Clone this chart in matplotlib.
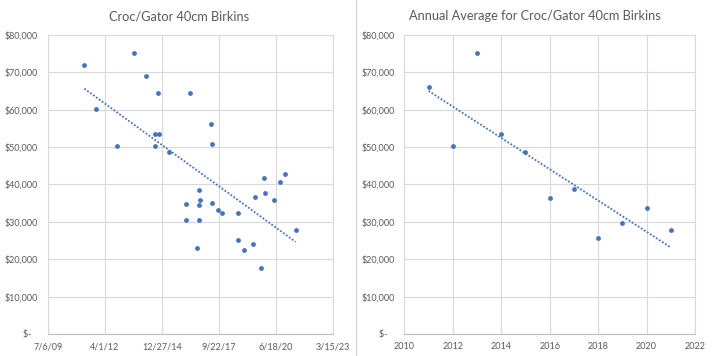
import matplotlib.pyplot as plt
import matplotlib.dates as mdates
import numpy as np
import pandas as pd
from matplotlib.lines import Line2D

# Данные: отдельные продажи (дата, цена)
sale_dates = ['2011-04-09', '2011-11-06', '2012-11-08', '2013-09-03', '2014-04-01',
              '2014-10-28', '2014-09-01', '2014-11-15', '2014-09-01', '2015-05-10',
              '2016-05-12', '2017-05-10', '2017-06-02', '2019-11-14', '2020-11-16',
              '2020-08-20', '2016-10-17', '2016-11-03', '2016-02-21', '2016-10-17',
              '2017-06-02', '2017-09-15', '2017-11-24', '2018-09-01', '2019-06-26',
              '2019-12-01', '2020-05-24', '2016-02-21', '2016-10-17', '2021-05-28',
              '2016-09-12', '2018-09-01', '2018-11-28', '2019-05-22', '2019-09-22']
sale_prices = [72000, 60100, 50200, 75300, 68900,
               64600, 53400, 53400, 50200, 48600,
               64600, 56300, 50700, 41600, 42700,
               40600, 38400, 35800, 34700, 34400,
               35000, 33300, 32300, 32500, 36600,
               37600, 35800, 30400, 30400, 27700,
               22900, 25100, 22400, 24000, 17600]

# Среднее за год
years = [2011, 2012, 2013, 2014, 2015, 2016, 2017, 2018, 2019, 2020, 2021]
year_avg = [66000, 50200, 75300, 53400, 48600, 36300, 38700, 25600, 29600, 33600, 27700]

date_ticks = ['2009-07-06', '2012-04-01', '2014-12-27', '2017-09-22', '2020-06-18', '2023-03-15']
date_tick_labels = ['7/6/09', '4/1/12', '12/27/14', '9/22/17', '6/18/20', '3/15/23']
year_ticks = [2010, 2012, 2014, 2016, 2018, 2020, 2022]
price_ticks = [0, 10000, 20000, 30000, 40000, 50000, 60000, 70000, 80000]

blue = '#4472C4'
grid_c = '#d9d9d9'
text_c = '#595959'
plt.rcParams['font.family'] = ['Lato', 'DejaVu Sans']


def money(v):
    if v == 0:
        return '$-   '
    return '${:,.0f}'.format(v)


def style_ax(ax):
    ax.set_ylim(0, 80000)
    ax.set_yticks(price_ticks)
    ax.set_yticklabels([money(v) for v in price_ticks])
    ax.grid(True, color=grid_c, linewidth=0.8)
    ax.set_axisbelow(True)
    for s in ax.spines.values():
        s.set_color(grid_c)
        s.set_linewidth(0.8)
    ax.spines['bottom'].set_color('#bfbfbf')
    ax.tick_params(length=0, labelsize=6.5, labelcolor=text_c)
    ax.tick_params(axis='y', pad=7)
    ax.tick_params(axis='x', pad=6)


fig = plt.figure(figsize=(7.15, 3.56), dpi=100)

# левый график
ax1 = fig.add_axes([0.0667, 0.0618, 0.399, 0.84])
d = pd.to_datetime(sale_dates)
dn = mdates.date2num(d)
ax1.scatter(d, sale_prices, s=12, color=blue, zorder=3, linewidths=0)
k, b = np.polyfit(dn, sale_prices, 1)
xs = np.array([dn.min(), dn.max()])
ax1.plot(mdates.num2date(xs), k * xs + b, color=blue, linestyle=(0, (1, 1)), linewidth=1.3)
ax1.set_xlim(pd.Timestamp(date_ticks[0]), pd.Timestamp(date_ticks[-1]))
ax1.set_xticks(pd.to_datetime(date_ticks))
ax1.set_xticklabels(date_tick_labels)
style_ax(ax1)
fig.text(0.250, 0.955, 'Croc/Gator 40cm Birkins', ha='center', va='center',
         fontsize=9.2, color=text_c)

# правый график
ax2 = fig.add_axes([0.5655, 0.0618, 0.4065, 0.84])
ax2.scatter(years, year_avg, s=12, color=blue, zorder=3, linewidths=0)
k2, b2 = np.polyfit(years, year_avg, 1)
yx = np.array([min(years), max(years)])
ax2.plot(yx, k2 * yx + b2, color=blue, linestyle=(0, (1, 1)), linewidth=1.3)
ax2.set_xlim(2010, 2022)
ax2.set_xticks(year_ticks)
style_ax(ax2)
fig.text(0.748, 0.955, 'Annual Average for Croc/Gator 40cm Birkins', ha='center', va='center',
         fontsize=9.2, color=text_c)

# разделитель между диаграммами
fig.add_artist(Line2D([0.498, 0.498], [0, 1], transform=fig.transFigure,
                      color='#d0d0d0', linewidth=0.8))

fig.savefig('out.png', dpi=100, facecolor='white')
